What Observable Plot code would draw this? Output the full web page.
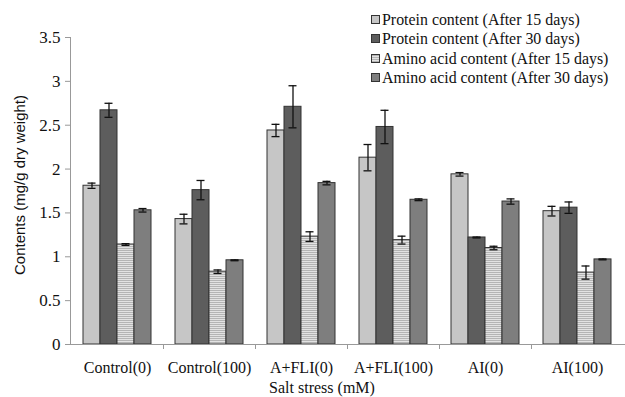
<!DOCTYPE html>
<html><head><meta charset="utf-8">
<script src="https://cdn.jsdelivr.net/npm/d3@7"></script>
<script src="https://cdn.jsdelivr.net/npm/@observablehq/plot@0.6"></script>
<style>
body{margin:0;background:#fff;}
#wrap{position:relative;width:625px;height:397px;font-family:"Liberation Serif",serif;color:#111;}
#legend{position:absolute;left:371px;top:10px;font-size:15.9px;line-height:19.3px;}
.li{display:flex;align-items:center;white-space:nowrap;}
.sw{width:9px;height:9px;border:1px solid #333;margin-right:2px;box-sizing:border-box;}
#xlabel{position:absolute;left:222px;width:200px;top:379px;text-align:center;font-size:16px;line-height:18px;white-space:nowrap;}
#ylabel{position:absolute;left:19px;top:185px;transform:translate(-50%,-50%) rotate(-90deg);font-family:"Liberation Sans",Arial,sans-serif;font-size:15px;white-space:nowrap;}
svg [aria-label="y-axis tick"] path{stroke:#999;}
svg text{font-family:"Liberation Serif",serif;}
</style></head>
<body>
<div id="wrap">
  <div id="chart"></div>
  <div id="legend"></div>
  <div id="xlabel">Salt stress (mM)</div>
  <div id="ylabel">Contents (mg/g dry weight)</div>
</div>
<script>
const categories = ["Control(0)","Control(100)","A+FLI(0)","A+FLI(100)","AI(0)","AI(100)"];
const seriesNames = ["Protein content (After 15 days)","Protein content (After 30 days)","Amino acid content (After 15 days)","Amino acid content (After 30 days)"];
const protein15 = [1.81, 1.43, 2.44, 2.13, 1.94, 1.52];
const protein15Err = [0.03, 0.055, 0.07, 0.15, 0.02, 0.055];
const protein30 = [2.67, 1.76, 2.71, 2.48, 1.22, 1.56];
const protein30Err = [0.08, 0.11, 0.24, 0.19, 0.005, 0.065];
const amino15 = [1.14, 0.83, 1.23, 1.19, 1.10, 0.82];
const amino15Err = [0.01, 0.02, 0.055, 0.045, 0.02, 0.075];
const amino30 = [1.53, 0.96, 1.84, 1.65, 1.63, 0.97];
const amino30Err = [0.02, 0.005, 0.02, 0.01, 0.03, 0.005];
const yTicks = [0, 0.5, 1, 1.5, 2, 2.5, 3, 3.5];
const fills = ["#c6c6c6", "#5d5d5d", "url(#stripes)", "#7e7e7e"];
const swatchCss = ["#c6c6c6", "#5d5d5d", "repeating-linear-gradient(#b4b4b4 0 1px,#e2e2e2 1px 2px)", "#7e7e7e"];

const values = [protein15, protein30, amino15, amino30];
const errors = [protein15Err, protein30Err, amino15Err, amino30Err];
const rows = [];
categories.forEach((c, i) => seriesNames.forEach((s, j) => rows.push({cat: c, series: s, value: values[j][i], err: errors[j][i]})));

const fig = Plot.plot({
  width: 625, height: 397,
  marginLeft: 70, marginRight: 0, marginTop: 37, marginBottom: 53,
  style: {fontFamily: "'Liberation Serif', serif", fontSize: "16px", background: "transparent", color: "#111"},
  fx: {domain: categories, paddingInner: 0.26, paddingOuter: 0.13, label: null},
  x: {domain: seriesNames, padding: 0, axis: null},
  y: {domain: [0, 3.5], label: null},
  color: {domain: seriesNames, range: fills},
  marks: [
    Plot.axisFx({anchor: "bottom", tickSize: 0, tickPadding: 17, label: null, fontSize: 16}),
    Plot.axisY({ticks: yTicks, tickSize: 5, tickPadding: 5, tickFormat: d => String(d), label: null, fontSize: 17}),
    Plot.barY(rows, {fx: "cat", x: "series", y: "value", fill: "series", stroke: "#333", strokeWidth: 1, inset: 0}),
    Plot.ruleX(rows, {fx: "cat", x: "series", y1: d => d.value - d.err, y2: d => d.value + d.err, stroke: "#111", strokeWidth: 1.3}),
    Plot.tickY(rows, {fx: "cat", x: "series", y: d => d.value + d.err, stroke: "#111", strokeWidth: 1.3, insetLeft: 4.5, insetRight: 4.5}),
    Plot.tickY(rows, {fx: "cat", x: "series", y: d => d.value - d.err, stroke: "#111", strokeWidth: 1.3, insetLeft: 4.5, insetRight: 4.5})
  ]
});
document.getElementById("chart").appendChild(fig);

const svg = d3.select(fig);
const defs = svg.insert("defs", ":first-child");
const pat = defs.append("pattern").attr("id", "stripes").attr("patternUnits", "userSpaceOnUse").attr("width", 4).attr("height", 2);
pat.append("rect").attr("width", 4).attr("height", 2).attr("fill", "#e2e2e2");
pat.append("rect").attr("width", 4).attr("height", 1).attr("fill", "#b4b4b4");

const fxs = fig.scale("fx"), ys = fig.scale("y");
const y0 = ys.apply(0), yTop = ys.apply(3.5);
const left = fxs.range[0], right = fxs.range[1];

// the y axis is drawn in the first facet; shift it back to the frame's left edge
const facetOffset = fxs.apply(categories[0]) - left;
svg.selectAll('[aria-label="y-axis tick"], [aria-label="y-axis tick label"]').each(function() {
  const t = this.getAttribute("transform") || "";
  this.setAttribute("transform", `translate(${-facetOffset},0) ${t}`);
});

const g = svg.append("g").attr("stroke", "#999").attr("stroke-width", 1);
g.append("line").attr("x1", left).attr("x2", right).attr("y1", y0 + 0.5).attr("y2", y0 + 0.5);
g.append("line").attr("x1", left + 0.5).attr("x2", left + 0.5).attr("y1", yTop).attr("y2", y0 + 0.5);
categories.slice(0, -1).forEach(c => {
  const xb = Math.round(fxs.apply(c) + fxs.bandwidth + (fxs.step - fxs.bandwidth) / 2) + 0.5;
  g.append("line").attr("x1", xb).attr("x2", xb).attr("y1", y0).attr("y2", y0 + 5);
});

const legend = d3.select("#legend");
seriesNames.forEach((s, j) => {
  const li = legend.append("div").attr("class", "li");
  li.append("span").attr("class", "sw").style("background", swatchCss[j]);
  li.append("span").text(s);
});
</script>
</body></html>
